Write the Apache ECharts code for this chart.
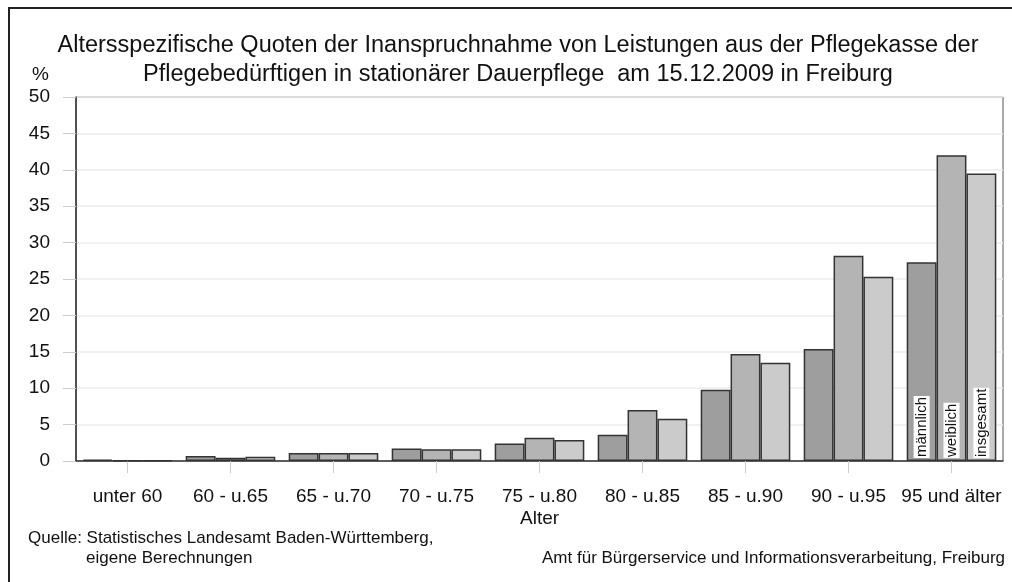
<!DOCTYPE html>
<html>
<head>
<meta charset="utf-8">
<script src="https://cdn.jsdelivr.net/npm/echarts@6/dist/echarts.min.js"></script>
<style>
  html, body { margin: 0; padding: 0; background: #fff; }
  #chart { width: 1012px; height: 582px; }
</style>
</head>
<body>
<div id="chart"></div>
<script>
// Altersgruppen
const categories = ['unter 60', '60 - u.65', '65 - u.70', '70 - u.75', '75 - u.80', '80 - u.85', '85 - u.90', '90 - u.95', '95 und älter'];
// Quoten in %
const maennlich = [0.2, 0.7, 1.1, 1.7, 2.4, 3.6, 9.8, 15.4, 27.3];
const weiblich  = [0.1, 0.45, 1.1, 1.6, 3.2, 7.0, 14.7, 28.2, 42.0];
const insgesamt = [0.1, 0.6, 1.1, 1.6, 2.9, 5.8, 13.5, 25.3, 39.5];
const yTicks = [0, 5, 10, 15, 20, 25, 30, 35, 40, 45, 50];

const FONT = 'Liberation Sans, Arial, sans-serif';

// nur im letzten Balken den Seriennamen anzeigen
function withLabel(arr) {
  return arr.map((v, i) => i === arr.length - 1 ? { value: v, label: { show: true } } : v);
}

function barSeries(name, data, color) {
  return {
    name: name,
    type: 'bar',
    data: withLabel(data),
    barGap: '0%',
    barCategoryGap: '13%',
    itemStyle: { color: color, borderColor: '#333', borderWidth: 1.5 },
    label: {
      show: false,
      formatter: '{a}',
      position: 'insideBottom',
      rotate: 90,
      align: 'left',
      verticalAlign: 'middle',
      distance: 3,
      color: '#111',
      fontFamily: FONT,
      fontSize: 15,
      backgroundColor: '#fff',
      padding: [1, 1, 0, 1]
    }
  };
}

const chart = echarts.init(document.getElementById('chart'));
chart.setOption({
  animation: false,
  backgroundColor: '#fff',
  textStyle: { fontFamily: FONT },
  title: {
    text: 'Altersspezifische Quoten der Inanspruchnahme von Leistungen aus der Pflegekasse der\nPflegebedürftigen in stationärer Dauerpflege  am 15.12.2009 in Freiburg',
    left: 513,
    top: 26,
    textAlign: 'center',
    textStyle: { fontFamily: FONT, fontSize: 23.5, fontWeight: 'normal', color: '#111', lineHeight: 29 }
  },
  graphic: [
    { type: 'rect', shape: { x: 9, y: 8, width: 1100, height: 700 }, style: { fill: 'none', stroke: '#222', lineWidth: 2 }, z: 0 },
    { type: 'text', left: 32, top: 65, style: { text: '%', fontFamily: FONT, fontSize: 19, fill: '#111' } },
    { type: 'text', left: 520, top: 509, style: { text: 'Alter', fontFamily: FONT, fontSize: 19, fill: '#111' } },
    { type: 'text', left: 28, top: 530, style: { text: 'Quelle: Statistisches Landesamt Baden-Württemberg,', fontFamily: FONT, fontSize: 17, fill: '#111' } },
    { type: 'text', left: 86, top: 550, style: { text: 'eigene Berechnungen', fontFamily: FONT, fontSize: 17, fill: '#111' } },
    { type: 'text', right: 7, top: 550, style: { text: 'Amt für Bürgerservice und Informationsverarbeitung, Freiburg', fontFamily: FONT, fontSize: 17, fill: '#111', align: 'right' } }
  ],
  grid: {
    left: 76, right: 9, top: 97, bottom: 121,
    show: true, borderColor: '#555', borderWidth: 1, backgroundColor: 'transparent'
  },
  xAxis: {
    type: 'category',
    data: categories,
    axisLine: { lineStyle: { color: '#333', width: 1.5 } },
    axisTick: { show: true, alignWithLabel: true, length: 12, lineStyle: { color: '#ccc' } },
    axisLabel: { color: '#111', fontSize: 19, margin: 26, fontFamily: FONT, interval: 0 },
    splitLine: { show: false }
  },
  yAxis: {
    type: 'value',
    min: yTicks[0],
    max: yTicks[yTicks.length - 1],
    interval: 5,
    axisLine: { show: true, lineStyle: { color: '#333', width: 1.5 } },
    axisTick: { show: true, length: 13, lineStyle: { color: '#ccc' } },
    axisLabel: { color: '#111', fontSize: 19, margin: 26, fontFamily: FONT },
    splitLine: { show: true, lineStyle: { color: '#ececec', width: 1.5 } }
  },
  series: [
    barSeries('männlich', maennlich, '#9e9e9e'),
    barSeries('weiblich', weiblich, '#b4b4b4'),
    barSeries('insgesamt', insgesamt, '#cbcbcb')
  ]
});
</script>
</body>
</html>
